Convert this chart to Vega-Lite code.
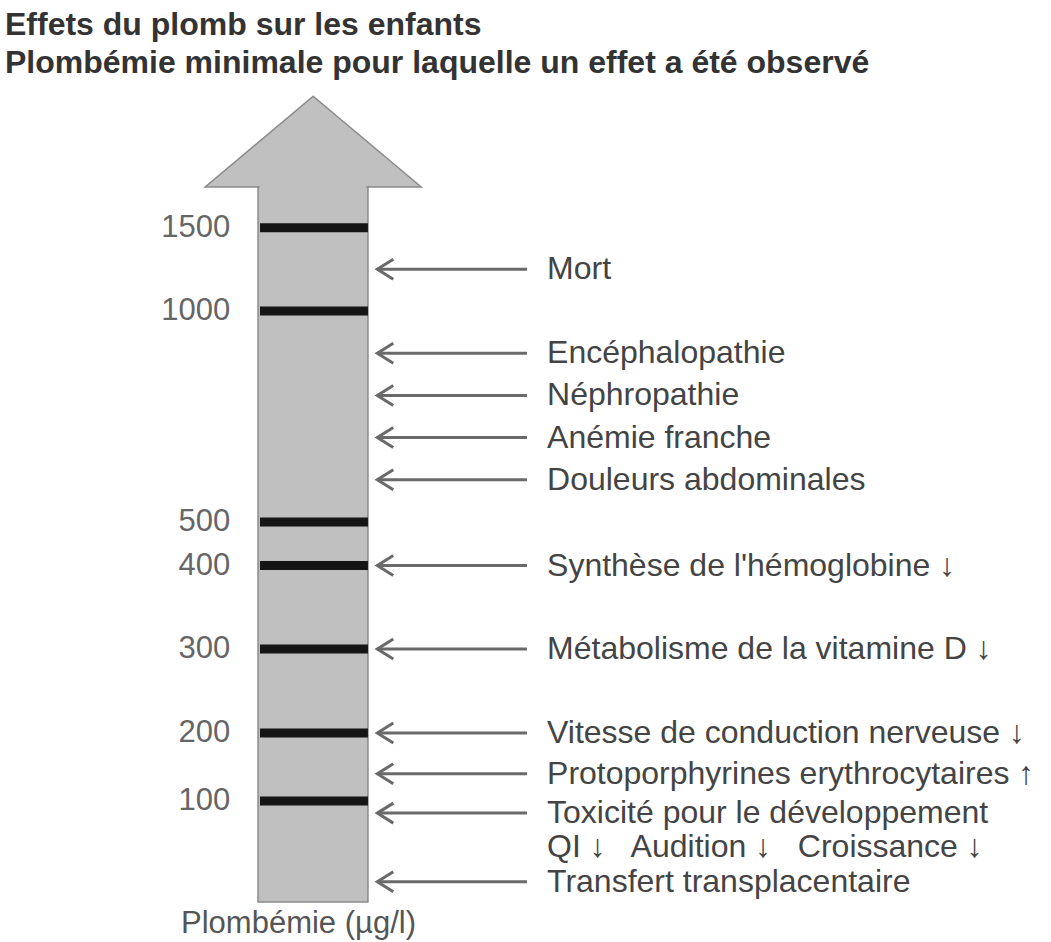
{
  "$schema": "https://vega.github.io/schema/vega-lite/v6.json",
  "width": 1051,
  "height": 812,
  "autosize": "none",
  "padding": {"top": 90, "left": 0, "right": 0, "bottom": 40},
  "background": "white",
  "config": {"view": {"stroke": null}, "font": "Liberation Sans"},
  "title": {
    "text": "Effets du plomb sur les enfants",
    "subtitle": "Plombémie minimale pour laquelle un effet a été observé",
    "anchor": "start",
    "frame": "group",
    "fontSize": 32,
    "subtitleFontSize": 32,
    "fontWeight": "bold",
    "subtitleFontWeight": "bold",
    "font": "Liberation Sans",
    "subtitleFont": "Liberation Sans",
    "color": "#333333",
    "subtitleColor": "#333333",
    "subtitlePadding": 6,
    "offset": 10,
    "dx": 5
  },
  "datasets": {
    "fleche": [{"partie": "échelle"}],
    "graduations": [
      {"plombemie": 100},
      {"plombemie": 200},
      {"plombemie": 300},
      {"plombemie": 400},
      {"plombemie": 500},
      {"plombemie": 1000},
      {"plombemie": 1500}
    ],
    "effets": [
      {"plombemie": 1250, "effet": "Mort"},
      {"plombemie": 900, "effet": "Encéphalopathie"},
      {"plombemie": 800, "effet": "Néphropathie"},
      {"plombemie": 700, "effet": "Anémie franche"},
      {"plombemie": 600, "effet": "Douleurs abdominales"},
      {"plombemie": 400, "effet": "Synthèse de l'hémoglobine ↓"},
      {"plombemie": 300, "effet": "Métabolisme de la vitamine D ↓"},
      {"plombemie": 200, "effet": "Vitesse de conduction nerveuse ↓"},
      {"plombemie": 140, "effet": "Protoporphyrines erythrocytaires ↑"},
      {"plombemie": 88, "effet": "Toxicité pour le développement", "suite": "QI ↓\u00a0\u00a0 Audition ↓\u00a0\u00a0 Croissance ↓"},
      {"plombemie": 20, "effet": "Transfert transplacentaire"}
    ]
  },
  "layer": [
    {
      "data": {"name": "fleche"},
      "mark": {"type": "point", "shape": "M0,-0.84L1,0L-1,0Z", "filled": true, "fill": "#c0c0c0", "stroke": "#8a8a8a", "strokeWidth": 1.5, "size": 46656, "opacity": 1},
      "encoding": {
        "x": {"datum": 29.8, "type": "quantitative", "scale": {"domain": [0, 100], "nice": false, "zero": false}, "axis": {"title": "Plombémie (µg/l)", "labels": false, "ticks": false, "domain": false, "grid": false, "titleX": 298, "titleY": 21, "titleBaseline": "middle", "titleFontSize": 31, "titleFontWeight": "normal", "titleColor": "#555555", "titleFont": "Liberation Sans"}},
        "y": {"datum": 1750, "type": "quantitative", "scale": {"domain": [0, 100, 200, 300, 400, 500, 1000, 1500, 1750], "range": [812, 711, 643, 559, 475.5, 432, 221, 137.7, 97], "nice": false, "zero": false}, "axis": null}
      }
    },
    {
      "data": {"name": "fleche"},
      "mark": {"type": "rect", "fill": "#c0c0c0", "stroke": "#8a8a8a", "strokeWidth": 1.5},
      "encoding": {
        "x": {"datum": 24.55, "type": "quantitative"},
        "x2": {"datum": 35.01},
        "y": {"datum": 0, "type": "quantitative"},
        "y2": {"datum": 1750}
      }
    },
    {
      "data": {"name": "fleche"},
      "mark": {"type": "rect", "fill": "#c0c0c0", "strokeWidth": 0},
      "encoding": {
        "x": {"datum": 24.7, "type": "quantitative"},
        "x2": {"datum": 34.86},
        "y": {"datum": 1700, "type": "quantitative"},
        "y2": {"datum": 1800}
      }
    },
    {
      "data": {"name": "graduations"},
      "mark": {"type": "rule", "color": "#151515", "strokeWidth": 9, "strokeCap": "butt"},
      "encoding": {
        "x": {"datum": 24.74, "type": "quantitative"},
        "x2": {"datum": 35.01},
        "y": {"field": "plombemie", "type": "quantitative"}
      }
    },
    {
      "data": {"name": "graduations"},
      "mark": {"type": "text", "align": "right", "baseline": "middle", "fontSize": 31, "color": "#666666"},
      "encoding": {
        "x": {"datum": 21.9, "type": "quantitative"},
        "y": {"field": "plombemie", "type": "quantitative"},
        "text": {"field": "plombemie", "type": "quantitative", "format": "d"}
      }
    },
    {
      "data": {"name": "effets"},
      "mark": {"type": "rule", "color": "#6a6a6a", "strokeWidth": 3},
      "encoding": {
        "x": {"datum": 35.9, "type": "quantitative"},
        "x2": {"datum": 50.14},
        "y": {"field": "plombemie", "type": "quantitative"}
      }
    },
    {
      "data": {"name": "effets"},
      "mark": {"type": "point", "shape": "M1.6,-1L0,0L1.6,1", "filled": false, "stroke": "#6a6a6a", "strokeWidth": 3, "size": 400, "opacity": 1},
      "encoding": {
        "x": {"datum": 35.9, "type": "quantitative"},
        "y": {"field": "plombemie", "type": "quantitative"}
      }
    },
    {
      "data": {"name": "effets"},
      "mark": {"type": "text", "align": "left", "baseline": "middle", "fontSize": 32, "color": "#444444"},
      "encoding": {
        "x": {"datum": 52.05, "type": "quantitative"},
        "y": {"field": "plombemie", "type": "quantitative"},
        "text": {"field": "effet", "type": "nominal"}
      }
    },
    {
      "data": {"name": "effets"},
      "transform": [{"filter": "datum.suite"}],
      "mark": {"type": "text", "align": "left", "baseline": "middle", "fontSize": 32, "color": "#444444", "dy": 34},
      "encoding": {
        "x": {"datum": 52.05, "type": "quantitative"},
        "y": {"field": "plombemie", "type": "quantitative"},
        "text": {"field": "suite", "type": "nominal"}
      }
    }
  ]
}
